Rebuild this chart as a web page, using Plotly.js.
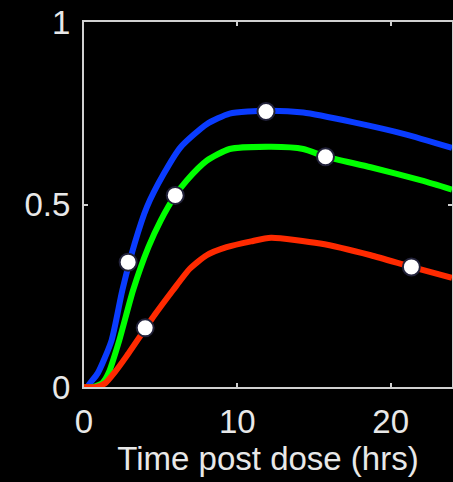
<!DOCTYPE html>
<html>
<head>
<meta charset="utf-8">
<script src="https://cdn.plot.ly/plotly-3.0.1.min.js"></script>
<style>html,body{margin:0;padding:0;background:#000;}#chart{width:453px;height:482px;}</style>
</head>
<body>
<div id="chart"></div>
<script>
// Data
const blueX = [0, 0.2, 0.4, 0.9, 1.8, 2.5, 3.3, 4.1, 5.2, 6.3, 8.0, 9.5, 11.9, 14.3, 17.6, 20.9, 24];
const blueY = [0, 0, 0.011, 0.038, 0.128, 0.265, 0.393, 0.493, 0.584, 0.657, 0.72, 0.749, 0.757, 0.752, 0.725, 0.693, 0.655];

const greenX = [0, 0.6, 1.2, 1.6, 2.3, 3.2, 4.2, 5.0, 5.95, 6.7, 8.0, 9.5, 12.2, 14.3, 15.75, 18.7, 22.0, 24];
const greenY = [0, 0, 0.011, 0.038, 0.128, 0.265, 0.383, 0.456, 0.525, 0.566, 0.62, 0.652, 0.658, 0.652, 0.631, 0.602, 0.566, 0.541];

const redX = [0, 0.8, 1.4, 2.0, 2.8, 4.0, 4.6, 5.8, 6.9, 8.0, 9.3, 10.9, 12.2, 15.4, 18.7, 21.35, 24];
const redY = [0, 0, 0.011, 0.040, 0.086, 0.160, 0.197, 0.265, 0.324, 0.361, 0.383, 0.399, 0.409, 0.393, 0.361, 0.329, 0.299];

const markX = [2.88, 11.87, 5.95, 15.75, 3.99, 21.35];
const markY = [0.342, 0.755, 0.525, 0.631, 0.162, 0.329];

const xTicks = [0, 10, 20];
const xTickText = ["0", "10", "20"];
const yTicks = [0, 0.5, 1];
const yTickText = ["0", "0.5", "1"];
const xTitle = "Time post dose (hrs)";

const textColor = "#e8e8e8";
const frameColor = "#d0d0d0";
const fnt = "Liberation Sans, Arial, sans-serif";

const lineTrace = (x, y, c) => ({
  x: x, y: y, type: "scatter", mode: "lines",
  line: {color: c, width: 6, shape: "spline", smoothing: 0.6},
  hoverinfo: "skip", showlegend: false
});

const traces = [
  lineTrace(blueX, blueY, "#0a3cff"),
  lineTrace(greenX, greenY, "#00ff00"),
  lineTrace(redX, redY, "#ff2a00"),
  {
    x: markX, y: markY, type: "scatter", mode: "markers",
    marker: {color: "#ffffff", size: 17, line: {color: "#22223a", width: 2}},
    cliponaxis: false, showlegend: false, hoverinfo: "skip"
  }
];

const layout = {
  width: 453, height: 482,
  paper_bgcolor: "#000000", plot_bgcolor: "#000000",
  margin: {l: 84, r: 1, t: 22, b: 95, pad: 0},
  showlegend: false,
  font: {family: fnt, size: 33, color: textColor},
  xaxis: {
    range: [0, 24], tickvals: xTicks, ticktext: xTickText,
    showgrid: false, zeroline: false,
    showline: true, linecolor: frameColor, linewidth: 2, mirror: "ticks",
    ticks: "inside", ticklen: 4, tickwidth: 2, tickcolor: frameColor,
    tickfont: {family: fnt, size: 33, color: textColor},
    ticklabelstandoff: 4,
    title: {text: xTitle, font: {family: fnt, size: 33, color: textColor}, standoff: 6},
    layer: "below traces", fixedrange: true
  },
  yaxis: {
    range: [0, 1], tickvals: yTicks, ticktext: yTickText,
    showgrid: false, zeroline: false,
    showline: true, linecolor: frameColor, linewidth: 2, mirror: "ticks",
    ticks: "inside", ticklen: 4, tickwidth: 2, tickcolor: frameColor,
    tickfont: {family: fnt, size: 33, color: textColor},
    ticklabelstandoff: 5,
    layer: "below traces", fixedrange: true
  }
};

Plotly.newPlot("chart", traces, layout, {staticPlot: true, displayModeBar: false});
</script>
</body>
</html>
